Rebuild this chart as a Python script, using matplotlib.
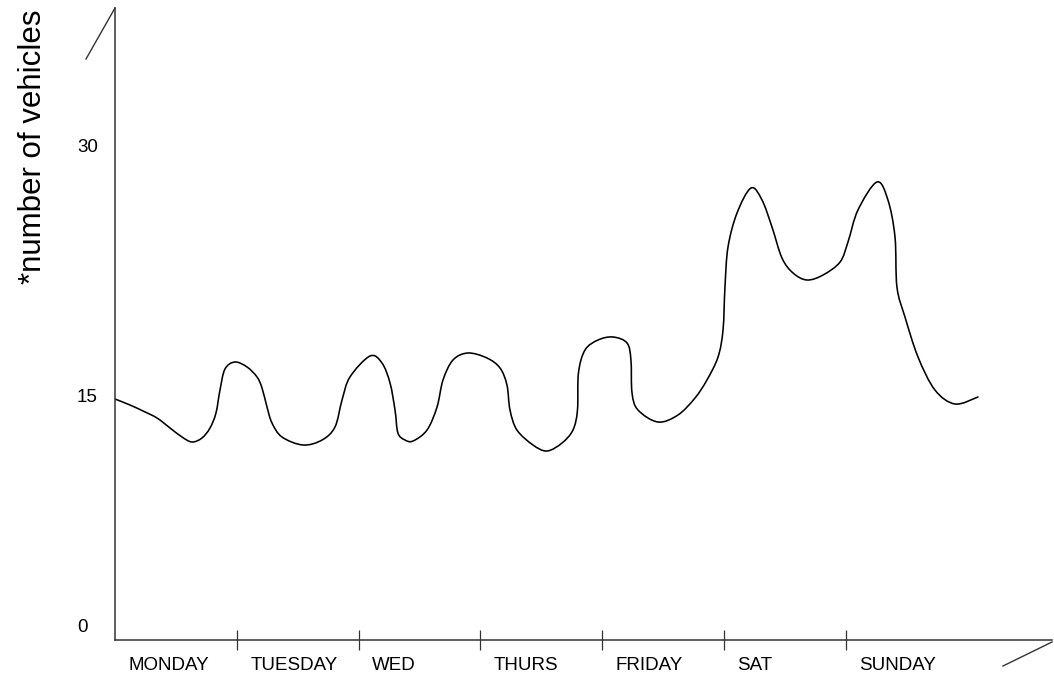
import numpy as np
import matplotlib
matplotlib.use("Agg")
import matplotlib.pyplot as plt
from matplotlib.lines import Line2D
from matplotlib.path import Path
from matplotlib.patches import PathPatch
from matplotlib.transforms import blended_transform_factory, offset_copy

plt.rcParams['font.family'] = ['Liberation Sans', 'DejaVu Sans']

# dias de la semana (cada dia ocupa una unidad en el eje x)
days = ['MONDAY', 'TUESDAY', 'WED', 'THURS', 'FRIDAY', 'SAT', 'SUNDAY']
y_tick_values = [0, 15, 30]

# curva: posicion (en dias) y numero de vehiculos
x_pos = [0.0, 0.123, 0.230, 0.345, 0.452, 0.550, 0.632, 0.714, 0.780, 0.829,
         0.862, 0.903, 0.985, 1.084, 1.166, 1.207, 1.248, 1.289, 1.371, 1.544,
         1.700, 1.806, 1.864, 1.929, 2.094, 2.192, 2.258, 2.299, 2.323, 2.381,
         2.447, 2.562, 2.644, 2.693, 2.775, 2.898, 3.054, 3.161, 3.218, 3.243,
         3.300, 3.432, 3.547, 3.670, 3.760, 3.797, 3.805, 3.859, 3.966, 4.089,
         4.204, 4.236, 4.245, 4.294, 4.458, 4.622, 4.762, 4.860, 4.951, 4.992,
         5.008, 5.033, 5.107, 5.222, 5.312, 5.394, 5.476, 5.567, 5.681, 5.813,
         5.953, 6.018, 6.100, 6.256, 6.346, 6.404, 6.420, 6.486, 6.593, 6.732,
         6.897, 7.085]
vehicles = [14.94, 14.58, 14.22, 13.80, 13.20, 12.66, 12.36, 12.60, 13.20, 14.10,
            15.48, 16.74, 17.16, 16.86, 16.26, 15.60, 14.46, 13.50, 12.66, 12.18,
            12.48, 13.26, 14.88, 16.26, 17.52, 17.10, 15.90, 14.28, 12.90, 12.48,
            12.42, 13.08, 14.46, 16.08, 17.28, 17.70, 17.40, 16.80, 15.78, 14.28,
            13.08, 12.18, 11.82, 12.30, 13.08, 14.28, 16.50, 17.88, 18.48, 18.66,
            18.30, 17.28, 15.30, 14.28, 13.56, 13.98, 15.00, 16.08, 17.46, 19.08,
            21.66, 24.06, 26.10, 27.60, 26.88, 25.26, 23.40, 22.50, 22.08, 22.38,
            23.16, 24.36, 26.28, 27.96, 26.88, 24.66, 21.66, 19.86, 17.46, 15.48,
            14.64, 15.06]


def smooth_path(xs, ys):
    # curva suave (bezier cubica tipo catmull-rom) que pasa por los puntos
    p = np.column_stack([xs, ys])
    pp = np.vstack([p[0], p, p[-1]])
    verts = [p[0]]
    codes = [Path.MOVETO]
    for i in range(len(p) - 1):
        a, b, c, d = pp[i], pp[i + 1], pp[i + 2], pp[i + 3]
        verts += [b + (c - a) / 6, c - (d - b) / 6, c]
        codes += [Path.CURVE4] * 3
    return Path(verts, codes)


W, H = 1054, 680
fig = plt.figure(figsize=(W / 100, H / 100), dpi=100)
ax = fig.add_axes([115 / W, 40 / H, 937 / W, 632 / H])

ax.add_patch(PathPatch(smooth_path(x_pos, vehicles), facecolor='none',
                       edgecolor='black', lw=1.15, capstyle='round',
                       joinstyle='round'))

ax.set_xlim(0, 7.693)
ax.set_ylim(0.48, 38.4)

# ejes
for s in ['top', 'right']:
    ax.spines[s].set_visible(False)
for s in ['left', 'bottom']:
    ax.spines[s].set_color('#333333')
    ax.spines[s].set_linewidth(1.1)

ax.set_xticks(np.arange(1, len(days)))
ax.tick_params(axis='x', direction='inout', length=14, width=0.9,
               color='#333333', labelbottom=False)
ax.tick_params(axis='y', left=False, labelleft=False)

# etiquetas de los dias
tr_x = blended_transform_factory(ax.transData, ax.transAxes)
for i, d in enumerate(days):
    ax.text(i + 0.11, -25 / 632, d, transform=tr_x, ha='left', va='center',
            fontsize=13.5, color='black', clip_on=False)

# etiquetas del eje y
tr_y = blended_transform_factory(ax.transAxes, ax.transData)
for v in y_tick_values:
    dy = 20 if v == 0 else 0
    t = offset_copy(tr_y, fig=fig, x=0, y=dy, units='dots')
    ax.text(-38 / 937, v, str(v), transform=t, ha='left', va='center',
            fontsize=13.5, color='black', clip_on=False)

fig.text(33 / W, 1 - 147 / H, '*number of vehicles', rotation=90,
         ha='center', va='center', fontsize=22.5, color='black')

# lineas diagonales en los extremos de los ejes
fig.add_artist(Line2D([115 / W, 86 / W], [1 - 8 / H, 1 - 59 / H],
                      transform=fig.transFigure, color='#333333', lw=1.0))
fig.add_artist(Line2D([1052 / W, 1003 / W], [1 - 642 / H, 1 - 666 / H],
                      transform=fig.transFigure, color='#333333', lw=1.0))

fig.savefig('out.png', dpi=100)
